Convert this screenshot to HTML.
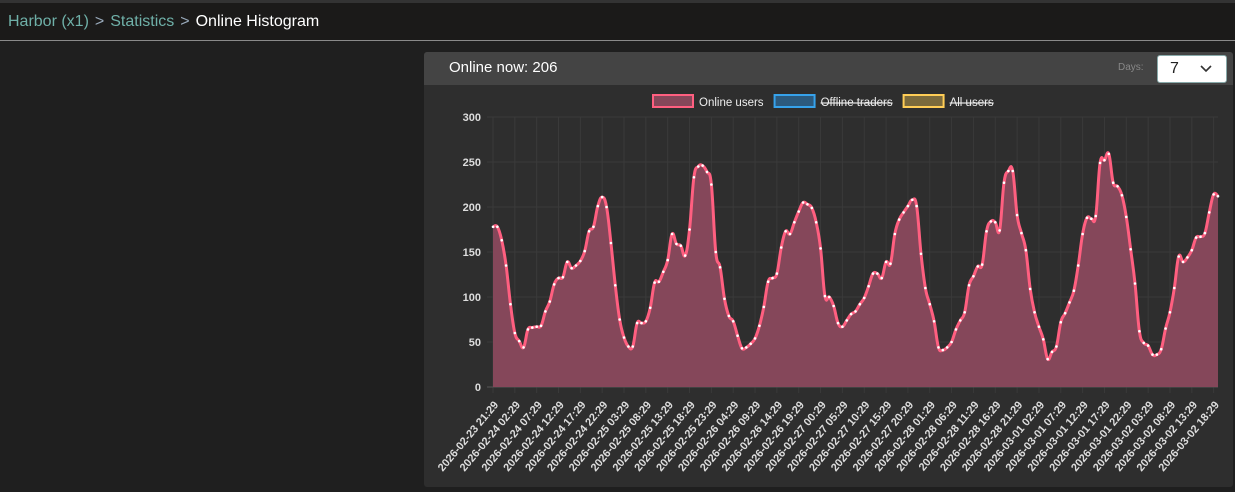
<!DOCTYPE html>
<html><head><meta charset="utf-8"><style>
body{margin:0;width:1235px;height:492px;background:#1f1f1f;font-family:"Liberation Sans",sans-serif;overflow:hidden;position:relative}
#top{position:absolute;left:0;top:0;width:1235px;height:41px;background:#1b1a19;border-top:3px solid #333;box-sizing:border-box;border-bottom:1px solid #8a8a8a}
#crumbs{position:absolute;left:8px;top:10px;font-size:16px;color:#6fb0a8}
#crumbs .cur{color:#fff}
#crumbs .sep{color:#9ab;margin:0 6px}
#panel{position:absolute;left:424px;top:52px;width:809px;height:435px;background:#2e2e2e;border-radius:3px;overflow:hidden}
#phead{height:33px;background:#444;position:relative}
#title{position:absolute;left:25px;top:7px;color:#fff;font-size:15px}
#dayslbl{position:absolute;left:694px;top:10px;color:#888;font-size:10px}
#sel{position:absolute;left:733px;top:3px;width:68px;height:26px;background:#fff;border-radius:3px;border:1px solid #8aa}
#sel span{position:absolute;left:12px;top:4px;font-size:16px;color:#222}
</style></head><body>
<div id="top"><div id="crumbs"><span>Harbor (x1)</span><span class="sep">&gt;</span><span>Statistics</span><span class="sep">&gt;</span><span class="cur">Online Histogram</span></div></div>
<div id="panel">
<div id="phead"><div id="title">Online now: 206</div><div id="dayslbl">Days:</div><div id="sel"><span>7</span><svg style="position:absolute;left:42px;top:9px" width="12" height="8"><path d="M1 1 L6 6 L11 1" stroke="#333" stroke-width="1.6" fill="none"/></svg></div></div>
<svg id="chart" width="809" height="402" style="position:absolute;left:0;top:33px"></svg>
</div>
<script>
const values=[178,178,163,135,92,60,51,44,64,66,67,68,84,95,114,121,122,139,132,135,140,151,173,178,201,211,200,160,113,75,55,45,45,71,71,73,88,116,117,128,141,170,159,157,146,175,233,245,246,239,225,150,133,98,79,73,57,43,44,48,54,68,89,117,121,126,155,173,170,183,195,205,203,199,183,154,101,100,90,71,67,74,81,84,92,99,112,126,126,121,139,137,170,186,194,201,208,201,148,110,92,73,44,41,44,50,64,74,83,113,123,134,136,173,184,183,174,227,240,240,191,171,152,109,83,67,53,31,39,45,72,82,94,107,135,170,188,187,190,249,252,259,227,223,213,189,153,115,62,49,46,36,36,42,65,83,110,145,139,144,152,166,167,171,194,214,212];
const tickLabels=["2026-02-23 21:29","2026-02-24 02:29","2026-02-24 07:29","2026-02-24 12:29","2026-02-24 17:29","2026-02-24 22:29","2026-02-25 03:29","2026-02-25 08:29","2026-02-25 13:29","2026-02-25 18:29","2026-02-25 23:29","2026-02-26 04:29","2026-02-26 09:29","2026-02-26 14:29","2026-02-26 19:29","2026-02-27 00:29","2026-02-27 05:29","2026-02-27 10:29","2026-02-27 15:29","2026-02-27 20:29","2026-02-28 01:29","2026-02-28 06:29","2026-02-28 11:29","2026-02-28 16:29","2026-02-28 21:29","2026-03-01 02:29","2026-03-01 07:29","2026-03-01 12:29","2026-03-01 17:29","2026-03-01 22:29","2026-03-02 03:29","2026-03-02 08:29","2026-03-02 13:29","2026-03-02 18:29"];
const yTicks=[0,50,100,150,200,250,300];
const legendNames=["Online users","Offline traders","All users"];
const tickStep=5;
const NS="http://www.w3.org/2000/svg";
const svg=document.getElementById('chart');
const X0=69,X1=794,Y0=302,Y1=32,YMAX=300;
const xs=i=>X0+(X1-X0)*i/(values.length-1);
const ys=v=>Y0-(Y0-Y1)*v/YMAX;
function mk(t,a){const e=document.createElementNS(NS,t);for(const k in a)e.setAttribute(k,a[k]);svg.appendChild(e);return e;}
for(let i=0;i<values.length;i+=tickStep){const g=mk('line',{x1:xs(i),x2:xs(i),y1:Y1,y2:Y0+6,stroke:'#3a3a3a'});

}
yTicks.forEach(v=>{const g=mk('line',{x1:X0-6,x2:X1,y1:ys(v),y2:ys(v),stroke:v===0?'#555':'#3a3a3a'});


const t=mk('text',{x:X0-12,y:ys(v)+4,'text-anchor':'end','font-size':'11','font-weight':'bold',fill:'#ddd'});t.textContent=v;

});
function path(){let d=`M${xs(0)},${ys(values[0])}`;for(let i=0;i<values.length-1;i++){const p0=i>0?i-1:i,p3=i+2<values.length?i+2:i+1;const t=0.2;
const c1x=xs(i)+(xs(i+1)-xs(p0))*t,c1y=ys(values[i])+(ys(values[i+1])-ys(values[p0]))*t;
const c2x=xs(i+1)-(xs(p3)-xs(i))*t,c2y=ys(values[i+1])-(ys(values[p3])-ys(values[i]))*t;
d+=` C${c1x},${c1y} ${c2x},${c2y} ${xs(i+1)},${ys(values[i+1])}`;}return d;}
const lp=path();
const area=mk('path',{d:lp+` L${xs(values.length-1)},${Y0} L${xs(0)},${Y0} Z`,fill:'#85475a'});


const line=mk('path',{d:lp,fill:'none',stroke:'#ff5f80','stroke-width':'3'});


values.forEach((v,i)=>{const c=mk('circle',{cx:xs(i),cy:ys(v),r:1.3,fill:'#fff'});

});
tickLabels.forEach((s,k)=>{const x=xs(k*tickStep);const t=mk('text',{x:x+6,y:Y0+18,'text-anchor':'end','font-size':'11','font-weight':'bold',fill:'#ddd',transform:`rotate(-50 ${x+6} ${Y0+18})`});t.textContent=s;

});
const cols=[['#85475a','#ff5f80'],['#2c5a7e','#36a2eb'],['#7b6a3c','#ffcd56']];
let lx=229;
legendNames.forEach((n,i)=>{const r=mk('rect',{x:lx,y:10,width:40,height:12,fill:cols[i][0],stroke:cols[i][1],'stroke-width':'2'});


const t=mk('text',{x:lx+46,y:21,'font-size':'11.5',fill:'#eee','text-decoration':i?'line-through':'none'});t.textContent=n;


lx+=46+t.getComputedTextLength()+11;});
</script>
</body></html>
